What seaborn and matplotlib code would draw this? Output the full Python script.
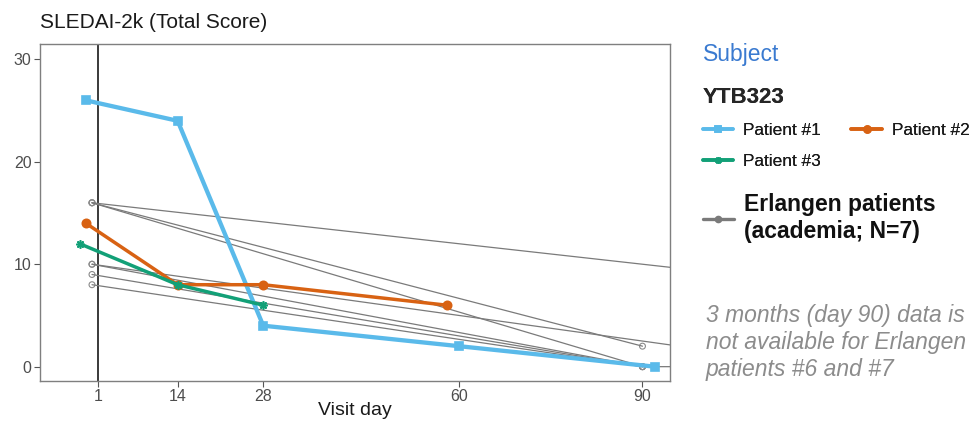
import matplotlib
matplotlib.use("Agg")
import matplotlib.pyplot as plt
from matplotlib.lines import Line2D
import seaborn as sns
import pandas as pd

# YTB323 patients
pat_names = ["Patient #1", "Patient #2", "Patient #3"]
pat_days = [[-1, 14, 28, 60, 92], [-1, 14, 28, 58], [-2, 14, 28]]
pat_scores = [[26, 24, 4, 2, 0], [14, 8, 8, 6], [12, 8, 6]]
pat_colors = ["#5ABAEA", "#D86213", "#12A077"]
pat_markers = ["s", "o", (8, 2, 0)]

# Erlangen patients (academia), #6 and #7 without day 90
erl_ids = ["#1", "#2", "#3", "#4", "#5", "#6", "#7"]
erl_days = [[0, 90], [0, 90, 180], [0, 90], [0, 90], [0, 90], [0, 180], [0, 120]]
erl_scores = [[16, 2], [16, 0, 0], [10, 0], [9, 0], [8, 0], [16, 4], [10, 0]]

x_ticks = [1, 14, 28, 60, 90]
y_ticks = [0, 10, 20, 30]

erl = pd.DataFrame(
    [(i, d, s) for i, ds, ss in zip(erl_ids, erl_days, erl_scores) for d, s in zip(ds, ss)],
    columns=["id", "day", "score"],
)

sns.set_theme(style="white")
plt.rcParams["font.family"] = ["Liberation Sans", "DejaVu Sans"]

fig = plt.figure(figsize=(9.78, 4.21), dpi=100)
ax = fig.add_axes([40 / 978, 1 - 381 / 421, 630 / 978, 337 / 421])

grey = "#7a7a7a"
sns.lineplot(data=erl, x="day", y="score", units="id", estimator=None,
             color=grey, lw=0.9, ax=ax, legend=False)
sns.scatterplot(data=erl, x="day", y="score", marker="o", s=18,
                facecolor="none", edgecolor="#8a8a8a", linewidth=0.8, ax=ax, legend=False)

for name, d, s, c, m in zip(pat_names, pat_days, pat_scores, pat_colors, pat_markers):
    sns.lineplot(x=d, y=s, color=c, lw=3.1 if name == "Patient #1" else 2.5,
                 marker=m, markersize=6, markeredgecolor=c, markeredgewidth=1.2,
                 ax=ax, legend=False)

ax.axvline(1, color="#2b2b2b", lw=1.3, zorder=1)

ax.set_xlim(-8.5, 94.5)
ax.set_ylim(-1.4, 31.5)
ax.set_xticks(x_ticks)
ax.set_yticks(y_ticks)
ax.tick_params(axis="both", length=4, width=0.8, color="#555555",
               labelsize=11.5, labelcolor="#4d4d4d", pad=2, bottom=True, left=True)
for sp in ax.spines.values():
    sp.set_color("#7f7f7f")
    sp.set_linewidth(1.0)
ax.set_xlabel("Visit day", fontsize=14, color="#1a1a1a", labelpad=-2)
ax.set_ylabel("")

fig.text(40 / 978, 1 - 22 / 421, "SLEDAI-2k (Total Score)", fontsize=15,
         color="#1a1a1a", va="center", ha="left")

# legend
fig.text(703 / 978, 1 - 55 / 421, "Subject", fontsize=16.5, color="#3a7ad0",
         va="center", ha="left")

order = [0, 2, 1]  # column-major fill -> row 1: #1, #2; row 2: #3
h_pat = [Line2D([], [], color=pat_colors[i], marker=pat_markers[i], lw=2.6, ms=5,
                mec=pat_colors[i], mew=1.2) for i in order]
leg1 = fig.legend(h_pat, [pat_names[i] for i in order], ncol=2, loc="upper left",
                  bbox_to_anchor=(703 / 978, 1 - 87 / 421), frameon=False,
                  title="YTB323", title_fontproperties={"weight": "bold", "size": 16},
                  alignment="left", fontsize=12.4, handlelength=1.75,
                  columnspacing=1.75, labelspacing=0.9, handletextpad=0.6,
                  borderpad=0, borderaxespad=0)
leg1._legend_box.sep = 11
for t in leg1.get_texts():
    t.set_color("#1a1a1a")

h_erl = [Line2D([], [], color=grey, marker="o", lw=2.4, ms=4.5)]
leg2 = fig.legend(h_erl, ["Erlangen patients\n(academia; N=7)"], loc="upper left",
                  bbox_to_anchor=(703 / 978, 1 - 193 / 421), frameon=False,
                  prop={"weight": "bold", "size": 16.5}, handlelength=1.35,
                  handletextpad=0.45, borderpad=0, borderaxespad=0)
for t in leg2.get_texts():
    t.set_color("#111111")
fig.add_artist(leg1)

fig.text(706 / 978, 1 - 304 / 421,
         "3 months (day 90) data is\nnot available for Erlangen\npatients #6 and #7",
         fontsize=16.5, style="italic", color="#8c8c8c", va="top", ha="left",
         linespacing=1.22)

fig.savefig("out.png", dpi=100)
